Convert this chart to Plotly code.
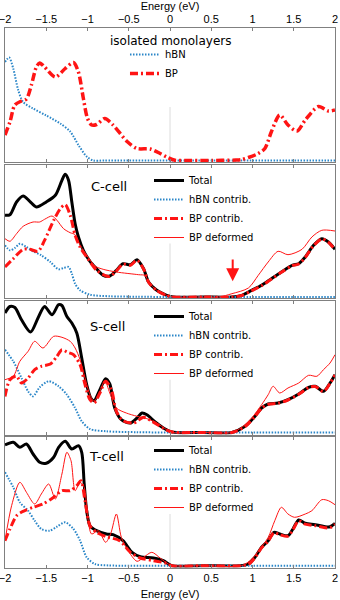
import plotly.graph_objects as go

# ---------------- axis ticks ----------------
TICK_VALS = [-2, -1.5, -1, -0.5, 0, 0.5, 1, 1.5, 2]
TICK_TEXT = ["−2", "−1.5", "−1", "−0.5", "0", "0.5", "1", "1.5", "2"]

# ---------------- panel 1: isolated monolayers ----------------
E1_HBN = [-2.0, -1.95, -1.90, -1.84, -1.78, -1.66, -1.50, -1.33, -1.21, -1.11, -1.01, -0.93, -0.80, 0.0, 1.0, 2.0]
V1_HBN = [98.5, 103, 92, 70.5, 58.5, 52, 45, 37, 29, 15.5, 4, 0, 0, 0, 0, 0]

E1_BP = [-2.0, -1.94, -1.88, -1.80, -1.74, -1.68, -1.62, -1.58, -1.52, -1.39, -1.27, -1.17, -1.11, -1.05,
         -1.00, -0.95, -0.89, -0.79, -0.69, -0.52, -0.40, -0.24, -0.12, -0.04, 0.06, 0.15, 0.5, 0.8, 0.87,
         0.95, 1.07, 1.15, 1.23, 1.33, 1.43, 1.54, 1.64, 1.80, 1.92, 2.0]
V1_BP = [25.5, 38.5, 55.5, 59.5, 61.5, 75.5, 93.5, 97.5, 93.5, 83.5, 92, 98, 88.5, 62,
         42, 35.5, 36, 42, 35.5, 19, 12, 11.5, 7, 3.5, 0.3, 0, 0, 0.5, 1,
         3, 7, 12, 29, 45.5, 35.5, 29.5, 40.5, 54, 49.5, 50.5]

# ---------------- panel 2: C-cell ----------------
E2_TOT = [-2.0, -1.94, -1.86, -1.78, -1.70, -1.62, -1.50, -1.39, -1.31, -1.27, -1.23, -1.19, -1.15, -1.11,
          -1.05, -0.97, -0.89, -0.81, -0.73, -0.65, -0.57, -0.48, -0.40, -0.32, -0.26, -0.16, -0.04, 0.04,
          0.40, 0.75, 0.87, 0.99, 1.11, 1.23, 1.35, 1.48, 1.56, 1.64, 1.74, 1.84, 1.92, 2.0]
V2_TOT = [81.7, 82.3, 95, 101, 95.7, 90, 95, 101.7, 116.7, 122.7, 116.7, 95, 73.3, 60,
          46.7, 35.7, 28.3, 21.7, 21, 26.7, 33.3, 32.3, 37.3, 28.3, 15, 6.7, 1.7, 0,
          0, 0, 1.7, 6.7, 11.7, 18.3, 25, 31.7, 33.3, 40, 51.7, 58.3, 55, 47.7]

E2_HBN = [-2.0, -1.94, -1.88, -1.82, -1.74, -1.66, -1.56, -1.45, -1.35, -1.29, -1.23, -1.19, -1.15, -1.09,
          -0.97, -0.73, -0.40, 0.0, 1.0, 2.0]
V2_HBN = [51.7, 46.7, 49, 53.3, 50, 45.7, 41.7, 35, 27.7, 29, 30, 23.3, 13.3, 6.7,
          2.3, 0.7, 0.3, 0, 0, 0]

E2_BP = [-2.0, -1.90, -1.78, -1.70, -1.60, -1.52, -1.41, -1.33, -1.27, -1.21, -1.15, -1.09, -1.01, -0.89,
         -0.77, -0.73, -0.65, -0.57, -0.48, -0.40, -0.32, -0.26, -0.16, -0.04, 0.04, 0.40, 0.75, 0.87,
         0.99, 1.11, 1.23, 1.35, 1.48, 1.56, 1.64, 1.74, 1.84, 1.92, 2.0]
V2_BP = [30, 38.3, 47.7, 47.7, 45.7, 56.7, 76.7, 88.3, 92.3, 81.7, 61.7, 50, 40, 26.7,
         21, 20.5, 26, 32.8, 31.8, 36.8, 28, 14.8, 6.5, 1.5, 0, 0, 0, 1.5,
         6.3, 11.3, 18, 24.7, 31.3, 33, 39.7, 51.3, 58, 54.7, 47.3]

E2_DEF = [-2.0, -1.94, -1.86, -1.78, -1.66, -1.58, -1.52, -1.43, -1.37, -1.29, -1.21, -1.15, -1.09, -1.01,
          -0.91, -0.81, -0.65, -0.38, -0.30, -0.26, -0.16, -0.04, 0.04, 0.30, 0.59, 0.75, 0.95, 1.07,
          1.19, 1.31, 1.43, 1.60, 1.72, 1.84, 2.0]
V2_DEF = [58.3, 55.7, 63.3, 70.7, 75, 75, 77.7, 81, 76.7, 68.3, 64.3, 62.3, 51.7, 41.7,
          31, 27.7, 25, 22.3, 21.5, 15, 6.7, 1.7, 0, 0, 0, 3.3, 9, 21.7,
          35, 45.7, 42.3, 47.7, 60, 66.7, 66]

# ---------------- panel 3: S-cell ----------------
E3_TOT = [-2.0, -1.94, -1.88, -1.80, -1.69, -1.60, -1.52, -1.43, -1.35, -1.31, -1.25, -1.19, -1.13, -1.07,
          -1.01, -0.96, -0.92, -0.85, -0.78, -0.73, -0.67, -0.59, -0.48, -0.40, -0.34, -0.28, -0.18, -0.08,
          0.0, 0.08, 0.40, 0.75, 0.91, 1.03, 1.11, 1.19, 1.31, 1.43, 1.56, 1.68, 1.76, 1.86, 1.94, 2.0]
V3_TOT = [119.5, 126, 125, 112.8, 100.5, 114.5, 126, 117.8, 127.8, 127, 116, 109.5, 99.5, 74.5,
          47.8, 34.5, 31.8, 42.8, 53.8, 48.5, 24.5, 12.8, 9.5, 14.5, 19.5, 17.8, 10.5, 4.5,
          1.2, 0, 0, 0, 6.2, 16.2, 24.5, 28.5, 29.5, 32.8, 38.5, 45.2, 46.2, 41.2, 49.5, 57.8]

E3_HBN = [-2.0, -1.90, -1.80, -1.72, -1.66, -1.58, -1.47, -1.35, -1.25, -1.15, -1.07, -0.97, -0.77, -0.40,
          0.0, 1.0, 2.0]
V3_HBN = [82.8, 71.2, 54.5, 41.2, 36.2, 45.2, 51.2, 46.2, 37.8, 24.5, 11.2, 3.5, 1.2, 0.3,
          0, 0, 0]

E3_BP = [-2.0, -1.94, -1.86, -1.80, -1.72, -1.64, -1.56, -1.45, -1.37, -1.31, -1.25, -1.17, -1.09, -1.03,
         -0.97, -0.92, -0.85, -0.78, -0.71, -0.65, -0.57, -0.44, -0.32, -0.22, -0.08, 0.0, 0.08, 0.40,
         0.75, 0.91, 1.03, 1.11, 1.19, 1.31, 1.43, 1.56, 1.68, 1.76, 1.86, 1.94, 2.0]
V3_BP = [36, 52.8, 56.2, 49.5, 54.5, 62.8, 66.2, 68.5, 76.2, 82.8, 80.5, 77.8, 67.8, 47.8,
         32.8, 29.5, 39.5, 51.2, 42.8, 21.2, 11.8, 9.5, 15.2, 11.2, 4.3, 1, 0, 0,
         0, 6, 16, 24.2, 28.2, 29.2, 32.5, 38.2, 45, 46, 41, 49.2, 57.5]

E3_DEF = [-2.0, -1.90, -1.82, -1.72, -1.64, -1.54, -1.41, -1.31, -1.21, -1.15, -1.09, -1.03, -0.97, -0.92,
          -0.85, -0.79, -0.73, -0.65, -0.53, -0.40, -0.28, -0.16, -0.04, 0.04, 0.40, 0.75, 0.87, 0.99,
          1.11, 1.19, 1.25, 1.33, 1.43, 1.56, 1.68, 1.78, 1.86, 1.94, 2.0]
V3_DEF = [52.8, 56.2, 71.2, 81.2, 91.2, 84.5, 96.2, 95.2, 91.2, 84.5, 72.8, 54.5, 37.8, 31.2,
          41.2, 51.8, 39.5, 24.5, 19.5, 16.2, 13.8, 9.5, 2.8, 0, 0, 0, 5.2, 14.5,
          27.8, 37.8, 46.2, 39.5, 44.5, 49.5, 57.2, 56.2, 62.8, 69.5, 77.8]

# ---------------- panel 4: T-cell ----------------
E4_TOT = [-2.0, -1.90, -1.82, -1.74, -1.66, -1.58, -1.50, -1.41, -1.35, -1.27, -1.19, -1.11, -1.07, -1.04,
          -1.01, -0.97, -0.89, -0.77, -0.69, -0.57, -0.46, -0.36, -0.20, -0.08, 0.02, 0.40, 0.85, 0.95,
          1.03, 1.11, 1.19, 1.26, 1.33, 1.43, 1.49, 1.56, 1.64, 1.76, 1.88, 1.94, 2.0]
V4_TOT = [120.7, 123.4, 118.4, 121.7, 111.7, 103.4, 102.4, 108.4, 118.4, 124.4, 116.7, 120, 113.4, 81.7,
          55, 40, 35, 31.7, 31, 25, 13.4, 9, 7.7, 5, 0, 0, 0, 1.7,
          8.4, 18.4, 25, 33.4, 31.7, 30, 36.7, 45.7, 42.4, 41, 39, 39, 42.4]

E4_HBN = [-2.0, -1.90, -1.82, -1.72, -1.64, -1.56, -1.46, -1.37, -1.27, -1.17, -1.09, -1.01, -0.91, -0.75,
          0.0, 1.0, 2.0]
V4_HBN = [93.4, 78.4, 63.4, 55, 45, 36.7, 35, 39, 43.4, 36.7, 25, 8.4, 1.7, 0.3,
          0, 0, 0]

E4_BP = [-2.0, -1.94, -1.86, -1.78, -1.66, -1.54, -1.41, -1.31, -1.21, -1.13, -1.08, -1.03, -0.97, -0.89,
         -0.77, -0.61, -0.48, -0.36, -0.20, -0.04, 0.02, 0.40, 0.85, 0.95, 1.03, 1.11, 1.19, 1.26,
         1.33, 1.43, 1.49, 1.56, 1.64, 1.76, 1.88, 1.94, 2.0]
V4_BP = [25, 36.7, 50, 54.4, 58.4, 61.7, 68.4, 75, 75, 80, 85, 65, 40, 33.4,
         29, 25, 13.4, 7.7, 5, 2.4, 0, 0, 0, 1.5, 8, 18, 24.5, 33,
         31, 29.5, 36, 45, 41.5, 40, 38, 38, 41.5]

E4_DEF = [-2.0, -1.92, -1.82, -1.74, -1.64, -1.56, -1.47, -1.39, -1.31, -1.25, -1.20, -1.15, -1.09, -1.04,
          -1.00, -0.95, -0.87, -0.78, -0.72, -0.65, -0.59, -0.52, -0.40, -0.32, -0.22, -0.12, -0.02, 0.05,
          0.40, 0.87, 0.99, 1.09, 1.19, 1.27, 1.35, 1.43, 1.51, 1.64, 1.72, 1.84, 1.92, 2.0]
V4_DEF = [25, 60, 83.4, 73.4, 61.7, 71.7, 81.7, 66.7, 91.7, 113.4, 105, 75, 83.4, 78.4,
          50, 31.7, 35, 23.4, 31.7, 51.7, 28.4, 16.7, 4.4, 8.4, 13.4, 7.7, 1.7, 0,
          0, 0, 6.7, 16.7, 28.4, 45, 58.4, 51.7, 48.4, 51.7, 55, 66, 65, 61]

# ---------------- panel labels ----------------
PANEL_LABELS = ["isolated monolayers", "C-cell", "S-cell", "T-cell"]
ARROW_E = 0.76

BLUE = "#2a86c8"
RED = "#ff1414"
DOT = "1.5px,1.5px"
DASHDOT = "8px,3px,2px,3px"
TICKFONT = dict(family="Liberation Sans, Arial, sans-serif", size=11, color="black")
TXTFONT = dict(family="DejaVu Sans", size=10, color="black")
FRAME = "#808080"

fig = go.Figure()


def add(panel, name, E, V, color, width, dash):
    sfx = "" if panel == 1 else str(panel)
    fig.add_trace(go.Scatter(
        x=E, y=V, mode="lines", name=name,
        line=dict(color=color, width=width, dash=dash, shape="spline", smoothing=0.8),
        xaxis="x" + sfx, yaxis="y" + sfx, legend="legend" + sfx, hoverinfo="skip"))


add(1, "hBN", E1_HBN, V1_HBN, BLUE, 2, DOT)
add(1, "BP", E1_BP, V1_BP, RED, 3.5, DASHDOT)

panels = [
    (2, E2_TOT, V2_TOT, E2_HBN, V2_HBN, E2_BP, V2_BP, E2_DEF, V2_DEF),
    (3, E3_TOT, V3_TOT, E3_HBN, V3_HBN, E3_BP, V3_BP, E3_DEF, V3_DEF),
    (4, E4_TOT, V4_TOT, E4_HBN, V4_HBN, E4_BP, V4_BP, E4_DEF, V4_DEF),
]
for p, et, vt, eh, vh, eb, vb, ed, vd in panels:
    add(p, "Total", et, vt, "black", 3, "solid")
    add(p, "hBN contrib.", eh, vh, BLUE, 2, DOT)
    add(p, "BP contrib.", eb, vb, RED, 3, DASHDOT)
    add(p, "BP deformed", ed, vd, RED, 1, "solid")

# empty carrier trace so the top (label-only) energy axis gets drawn
fig.add_trace(go.Scatter(x=[], y=[], xaxis="x5", yaxis="y", showlegend=False,
                         hoverinfo="skip", mode="lines"))

# pixel geometry of the four panels (top, bottom in px of the 600 px page)
PANEL_PX = [(28, 162), (165, 298), (301, 434.5), (437, 567.5)]
BASE = [1.5, 1.0, 2.0, 1.8]
H = 600.0

layout = dict(
    width=340, height=600,
    margin=dict(l=5, r=5, t=0, b=0),
    paper_bgcolor="white", plot_bgcolor="white",
    showlegend=True,
)

for i in range(4):
    sfx = "" if i == 0 else str(i + 1)
    top, bot = PANEL_PX[i]
    xa = dict(
        domain=[0, 1], anchor="y" + sfx, range=[-2, 2],
        tickmode="array", tickvals=TICK_VALS, ticktext=TICK_TEXT,
        ticks="inside", ticklen=3, tickcolor=FRAME, tickwidth=1,
        showline=True, linecolor=FRAME, linewidth=1, mirror="ticks",
        showgrid=False, zeroline=False, ticklabeloverflow="allow",
        showticklabels=(i == 3), tickfont=TICKFONT,
        side="top" if i == 0 else "bottom", automargin=False,
    )
    if i == 3:
        xa["title"] = dict(text="Energy (eV)", font=TICKFONT, standoff=7)
    if i > 0:
        xa["matches"] = "x"
    layout["xaxis" + sfx] = xa
    layout["yaxis" + sfx] = dict(
        domain=[1 - bot / H, 1 - top / H], anchor="x" + sfx,
        range=[-BASE[i], (bot - top) - BASE[i]],
        showticklabels=False, ticks="", showline=True, linecolor=FRAME,
        linewidth=1, mirror=True, showgrid=False, zeroline=False, automargin=False,
    )

# top energy axis (labels only)
layout["xaxis5"] = dict(
    overlaying="x", anchor="free", position=1 - 25 / H, side="top",
    range=[-2, 2], tickmode="array", tickvals=TICK_VALS, ticktext=TICK_TEXT,
    ticks="", showline=False, showgrid=False, zeroline=False,
    ticklabeloverflow="allow", tickfont=TICKFONT, automargin=False,
    title=dict(text="Energy (eV)", font=TICKFONT, standoff=0),
)

# legends
LEG_POS = [(0.3636, 1 - 40 / H), (0.4364, 1 - 166 / H), (0.4364, 1 - 302 / H), (0.4364, 1 - 436 / H)]
for i in range(4):
    sfx = "" if i == 0 else str(i + 1)
    layout["legend" + sfx] = dict(
        x=LEG_POS[i][0], y=LEG_POS[i][1], xanchor="left", yanchor="top",
        bgcolor="rgba(0,0,0,0)", borderwidth=0, font=TXTFONT,
        itemwidth=30, traceorder="normal",
    )

fig.update_layout(**layout)

# Fermi-level marker lines
for i in range(4):
    sfx = "" if i == 0 else str(i + 1)
    fig.add_shape(type="line", xref="x" + sfx, yref="y" + sfx + " domain",
                  x0=0, x1=0, y0=0, y1=0.41, line=dict(color="#dcdcdc", width=1), layer="below")

# panel labels
LABEL_POS = [(0.0, 119.5, 12), (-0.745, 111, 13), (-0.76, 105.8, 13), (-0.77, 109, 13)]
for i in range(4):
    sfx = "" if i == 0 else str(i + 1)
    x, y, s = LABEL_POS[i]
    fig.add_annotation(x=x, y=y, xref="x" + sfx, yref="y" + sfx, text=PANEL_LABELS[i],
                       showarrow=False, font=dict(family="DejaVu Sans", size=s, color="black"))

# red arrow in C-cell panel
fig.add_annotation(x=ARROW_E, y=15.7, xref="x2", yref="y2", ax=ARROW_E, ay=39,
                   axref="x2", ayref="y2", text="", showarrow=True,
                   arrowhead=2, arrowsize=1.3, arrowwidth=2, arrowcolor=RED)

fig.write_html("out.html", config={"displayModeBar": False},
               post_script="document.body.style.margin='0';document.body.style.overflow='hidden';")
